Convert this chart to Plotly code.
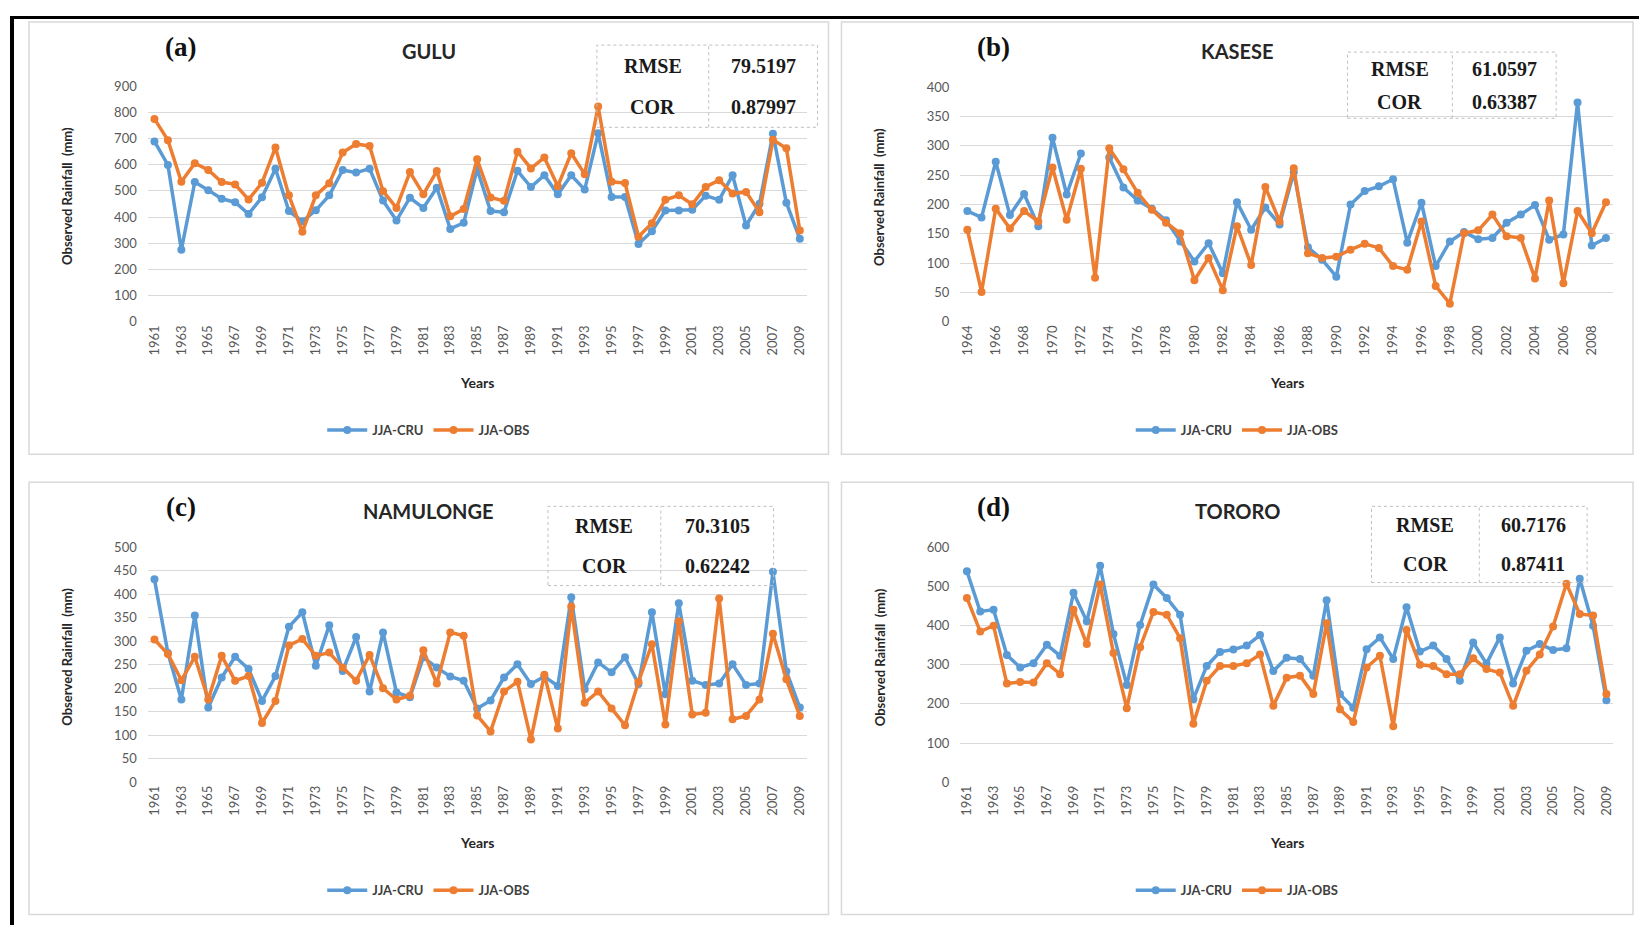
import plotly.graph_objects as go

# station years
years_full = list(range(1961, 2010))
years_kasese = list(range(1964, 2010))

# JJA rainfall (mm)
gulu_cru = [689, 599, 275, 534, 503, 470, 457, 412, 476, 585,
            423, 384, 426, 483, 580, 570, 585, 463, 387, 474,
            435, 512, 355, 378, 583, 423, 419, 577, 515, 560,
            487, 560, 505, 720, 477, 477, 297, 346, 425, 425,
            428, 482, 466, 560, 368, 451, 718, 455, 317]
gulu_obs = [775, 694, 535, 606, 580, 534, 525, 467, 531, 666,
            483, 344, 483, 529, 647, 679, 672, 499, 435, 572,
            487, 576, 403, 431, 621, 475, 462, 650, 586, 628,
            518, 644, 564, 822, 535, 530, 325, 377, 466, 483,
            449, 515, 541, 490, 496, 419, 695, 663, 349]

kasese_cru = [189, 178, 273, 182, 218, 163, 314, 217, 287, None,
              280, 229, 207, 193, 173, 137, 103, 134, 83, 204,
              157, 195, 166, 255, 127, 106, 77, 200, 223, 231,
              243, 135, 203, 95, 137, 153, 141, 143, 169, 183,
              199, 140, 149, 374, 130, 143]
kasese_obs = [157, 51, 193, 159, 189, 171, 263, 174, 261, 75,
              296, 260, 220, 191, 169, 151, 71, 109, 54, 163,
              97, 230, 171, 262, 117, 109, 111, 123, 133, 126,
              95, 89, 171, 61, 31, 151, 156, 183, 146, 143,
              74, 207, 66, 189, 151, 204]

namulonge_cru = [432, 275, 176, 355, 159, 223, 267, 241, 173, 226,
                 331, 362, 248, 334, 237, 309, 193, 319, 191, 181,
                 266, 244, 225, 216, 157, 174, 223, 251, 209, 225,
                 205, 394, 198, 255, 234, 266, 209, 362, 187, 381,
                 216, 207, 210, 251, 207, 210, 448, 236, 159]
namulonge_obs = [304, 273, 217, 267, 176, 269, 216, 226, 126, 173,
                 291, 305, 269, 276, 244, 216, 271, 200, 176, 184,
                 281, 210, 319, 312, 142, 108, 193, 214, 91, 229,
                 114, 374, 169, 193, 157, 121, 214, 294, 123, 343,
                 144, 148, 391, 134, 141, 176, 316, 219, 141]

tororo_cru = [539, 436, 441, 325, 293, 304, 351, 323, 484, 411,
              553, 379, 248, 402, 505, 471, 428, 212, 297, 333,
              339, 349, 376, 284, 318, 315, 272, 465, 225, 190,
              340, 370, 315, 447, 334, 349, 315, 259, 357, 303,
              370, 252, 336, 353, 338, 342, 520, 400, 209]
tororo_obs = [471, 385, 400, 252, 256, 255, 304, 276, 441, 353,
              505, 330, 189, 345, 435, 428, 368, 149, 259, 297,
              297, 304, 326, 195, 267, 272, 225, 406, 186, 154,
              293, 323, 143, 389, 300, 297, 276, 276, 317, 289,
              280, 195, 285, 326, 398, 507, 430, 426, 225]

stations = ['GULU', 'KASESE', 'NAMULONGE', 'TORORO']
letters = ['(a)', '(b)', '(c)', '(d)']
rmse_vals = ['79.5197', '61.0597', '70.3105', '60.7176']
cor_vals = ['0.87997', '0.63387', '0.62242', '0.87411']
y_max = [900, 400, 500, 600]
y_step = [100, 50, 50, 100]

# page offsets measured from earlier renders: figure starts 8px in from the left,
# and vertically lands at 17px with a 0.98 squeeze
OFF_X = 8
OFF_Y = 17
SQ_Y = 0.98
W, H = 1632, 925
BLUE = '#5B9BD5'
ORANGE = '#ED7D31'
GRID = '#D9D9D9'
TICK = '#595959'
SANS = 'Lato, Open Sans, sans-serif'
SERIF = 'Liberation Serif, Times New Roman, serif'


def px_x(v):
    # window pixel -> paper fraction
    return (v - OFF_X) / W


def px_y(v):
    return 1 - ((v - OFF_Y) / SQ_Y) / H


# plot areas in window pixels (left, right, top, bottom) and panel boxes
plot_px = [(146, 806, 87, 322), (960, 1614, 88, 322),
           (146, 806, 547, 781), (960, 1614, 547, 781)]
box_px = [(27, 828, 23, 454), (841, 1634, 23, 454),
          (27, 828, 482, 913), (841, 1634, 482, 913)]
table_px = [(596, 817, 46, 128, 708), (1348, 1557, 53, 119, 1453),
            (547, 773, 506, 585, 660), (1372, 1588, 506, 582, 1480)]

series = [(years_full, gulu_cru, gulu_obs),
          (years_kasese, kasese_cru, kasese_obs),
          (years_full, namulonge_cru, namulonge_obs),
          (years_full, tororo_cru, tororo_obs)]

fig = go.Figure()
shapes = []
annotations = []
layout = {}

for i, (yrs, cru, obs) in enumerate(series):
    n = i + 1
    sfx = '' if n == 1 else str(n)
    leg = 'legend' if n == 1 else 'legend' + str(n)
    l, r, t, b = plot_px[i]

    fig.add_scatter(x=yrs, y=cru, mode='lines+markers', name='<b>JJA-CRU</b>',
                    line=dict(color=BLUE, width=3.5), marker=dict(size=8, color=BLUE),
                    xaxis='x' + sfx, yaxis='y' + sfx, legend=leg)
    fig.add_scatter(x=yrs, y=obs, mode='lines+markers', name='<b>JJA-OBS</b>',
                    line=dict(color=ORANGE, width=3.5), marker=dict(size=8, color=ORANGE),
                    xaxis='x' + sfx, yaxis='y' + sfx, legend=leg)

    layout['xaxis' + sfx] = dict(
        domain=[px_x(l), px_x(r)], anchor='y' + sfx,
        range=[yrs[0] - 0.5, yrs[-1] + 0.5],
        tickvals=yrs[::2], tickangle=-90, showgrid=False, zeroline=False,
        showline=False, ticks='', tickfont=dict(family=SANS, size=13, color=TICK))
    layout['yaxis' + sfx] = dict(
        domain=[px_y(b), px_y(t)], anchor='x' + sfx,
        range=[0, y_max[i]], dtick=y_step[i], showgrid=True, gridcolor=GRID,
        gridwidth=1, zeroline=False, showline=False, ticks='',
        ticklabelstandoff=10, tickfont=dict(family=SANS, size=13, color=TICK))

    # panel box
    bl, br, bt, bb = box_px[i]
    shapes.append(dict(type='rect', xref='paper', yref='paper',
                       x0=px_x(bl), x1=px_x(br), y0=px_y(bb), y1=px_y(bt),
                       line=dict(color='#D9D9D9', width=1.5), layer='below'))

    # RMSE / COR table
    tl, tr, tt, tb, tm = table_px[i]
    shapes.append(dict(type='rect', xref='paper', yref='paper',
                       x0=px_x(tl), x1=px_x(tr), y0=px_y(tb), y1=px_y(tt),
                       line=dict(color='#BFBFBF', width=1, dash='dot')))
    shapes.append(dict(type='line', xref='paper', yref='paper',
                       x0=px_x(tm), x1=px_x(tm), y0=px_y(tb), y1=px_y(tt),
                       line=dict(color='#BFBFBF', width=1, dash='dot')))
    row1 = tt + (tb - tt) * 0.25
    row2 = tt + (tb - tt) * 0.75
    for txt, cx, cy in [('RMSE', (tl + tm) / 2, row1), (rmse_vals[i], (tm + tr) / 2, row1),
                        ('COR', (tl + tm) / 2, row2), (cor_vals[i], (tm + tr) / 2, row2)]:
        annotations.append(dict(text='<b>' + txt + '</b>', x=px_x(cx), y=px_y(cy),
                                xref='paper', yref='paper', showarrow=False,
                                xanchor='center', yanchor='middle',
                                font=dict(family=SERIF, size=20, color='#1a1a1a')))

    # letter, station name, axis titles
    bc = (bl + br) / 2
    annotations.append(dict(text='<b>' + letters[i] + '</b>', x=px_x(bl + 152), y=px_y(bt + 25),
                            xref='paper', yref='paper', showarrow=False,
                            xanchor='center', yanchor='middle',
                            font=dict(family=SERIF, size=27, color='#111111')))
    annotations.append(dict(text='<b>' + stations[i] + '</b>', x=px_x(bc), y=px_y(bt + 29),
                            xref='paper', yref='paper', showarrow=False,
                            xanchor='center', yanchor='middle',
                            font=dict(family=SANS, size=20, color='#262626')))
    annotations.append(dict(text='<b>Observed Rainfall  (mm)</b>', x=px_x(bl + 38),
                            y=px_y((t + b) / 2 - 8), xref='paper', yref='paper',
                            showarrow=False, textangle=-90, xanchor='center', yanchor='middle',
                            font=dict(family=SANS, size=13, color='#262626')))
    annotations.append(dict(text='<b>Years</b>', x=px_x((l + r) / 2), y=px_y(b + 60),
                            xref='paper', yref='paper', showarrow=False,
                            xanchor='center', yanchor='middle',
                            font=dict(family=SANS, size=14, color='#262626')))

    layout[leg] = dict(orientation='h', x=px_x(bc), y=px_y(bt + 407),
                       xanchor='center', yanchor='middle', bgcolor='rgba(0,0,0,0)',
                       itemwidth=40, tracegroupgap=0,
                       font=dict(family=SANS, size=13, color='#404040'))

# black frame on top and left edges (kept at the very edge of the figure)
shapes.append(dict(type='line', xref='paper', yref='paper', x0=0, x1=1,
                   y0=1 - 1.5 / H, y1=1 - 1.5 / H, line=dict(color='black', width=3)))
shapes.append(dict(type='line', xref='paper', yref='paper', x0=2 / W, x1=2 / W,
                   y0=0, y1=1, line=dict(color='black', width=4)))

fig.update_layout(
    width=W, height=H,
    margin=dict(l=0, r=0, t=0, b=0),
    paper_bgcolor='white', plot_bgcolor='white',
    shapes=shapes, annotations=annotations,
    **layout
)

fig.write_html("out.html")
